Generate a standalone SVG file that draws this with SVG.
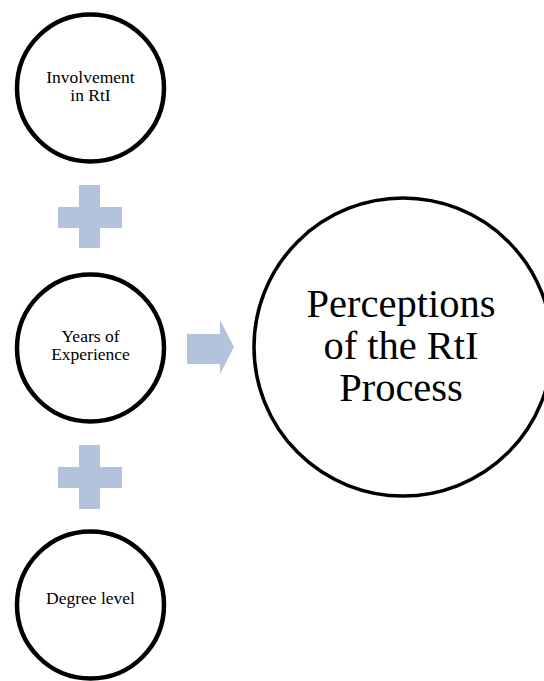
<svg xmlns="http://www.w3.org/2000/svg" width="544" height="681" viewBox="0 0 544 681">
<style>
.node{fill:#ffffff;stroke:#000000;stroke-width:4.5}
.big{fill:#ffffff;stroke:#000000;stroke-width:3.5}
.lbl{font-family:"Liberation Serif","Times New Roman",serif;font-size:17.5px;fill:#000000;text-anchor:middle}
.biglbl{font-family:"Liberation Serif","Times New Roman",serif;font-size:40.5px;fill:#000000;text-anchor:middle}
.conn{fill:#b4c3dc;stroke:none}
</style>
<rect x="0" y="0" width="544" height="681" fill="#ffffff"/>
<g id="connectors">
<path class="conn" d="M79 185 H100 V207 H122 V228 H100 V248 H79 V228 H58 V207 H79 Z"/>
<path class="conn" d="M79 445 H100 V467 H122 V488 H100 V509 H79 V488 H58 V467 H79 Z"/>
<path class="conn" d="M187 334 H220 V320 L234 347 L220 374 V364 H187 Z"/>
</g>
<g id="node-involvement">
<circle class="node" cx="90.5" cy="88" r="73.5"/>
<text class="lbl" x="90.5" y="82.5">Involvement</text>
<text class="lbl" x="90.5" y="101">in RtI</text>
</g>
<g id="node-years">
<circle class="node" cx="90.5" cy="348" r="73.5"/>
<text class="lbl" x="90.5" y="341.5">Years of</text>
<text class="lbl" x="90.5" y="360">Experience</text>
</g>
<g id="node-degree">
<circle class="node" cx="90.5" cy="605" r="73.5"/>
<text class="lbl" x="90.5" y="603.5">Degree level</text>
</g>
<g id="node-perceptions">
<circle class="big" cx="403" cy="347" r="149"/>
<text class="biglbl" x="401" y="317">Perceptions</text>
<text class="biglbl" x="401" y="359">of the RtI</text>
<text class="biglbl" x="401" y="401">Process</text>
</g>
</svg>
